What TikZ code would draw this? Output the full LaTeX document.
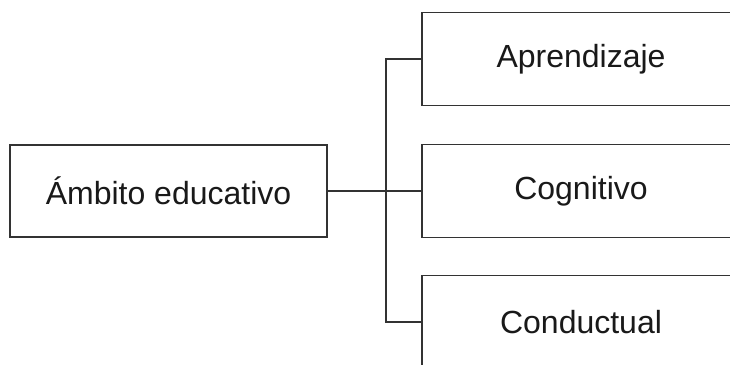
\documentclass[tikz,border=0pt]{standalone}
\usepackage{fontspec}
\setmainfont{Liberation Sans}
\begin{document}
\begin{tikzpicture}[x=1pt,y=-1pt,
  box/.style={draw=black!80, fill=white, rectangle, inner sep=0pt,
    line width=1.4pt, font=\fontsize{32}{38}\selectfont, text=black!90},
  rootbox/.style={box, minimum width=317pt, minimum height=92pt},
  leafbox/.style={box, minimum width=318pt, minimum height=93pt},
  link/.style={draw=black!80, line width=1.4pt}]
  \useasboundingbox (0,0) rectangle (730,364);
  \clip (0,0) rectangle (730,364);
  \fill[white] (0,0) rectangle (730,364);

  % root and the three branches
  \node[rootbox] (root) at (168.5,191) {Ámbito educativo};
  \node[leafbox] (a) at (581,59)  {Aprendizaje};
  \node[leafbox] (b) at (581,191) {Cognitivo};
  \node[leafbox] (c) at (581,322) {Conductual};

  % vertical bus shared by the branches
  \coordinate (bus) at (386,191);
  \draw[link] (root.east) -- (b.west);
  \draw[link] (a.west) -| (bus) |- (c.west);
\end{tikzpicture}
\end{document}
